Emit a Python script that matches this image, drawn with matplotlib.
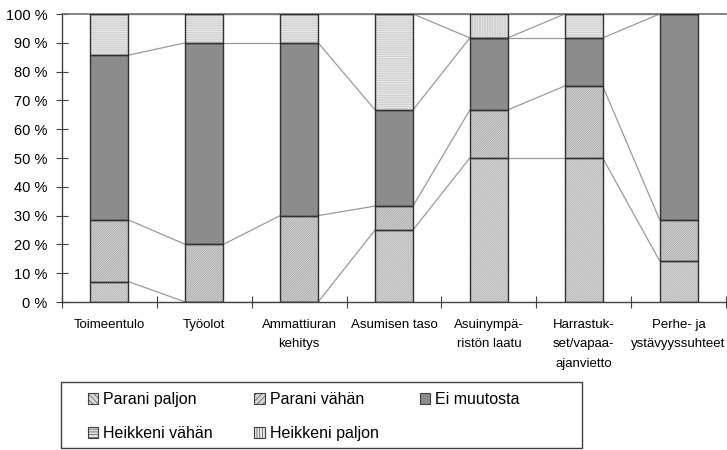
import numpy as np
from matplotlib import pyplot as plt
from matplotlib.patches import Patch, Rectangle

categories = ["Toimeentulo", "Työolot", "Ammattiuran\nkehitys", "Asumisen taso",
              "Asuinympä-\nristön laatu", "Harrastuk-\nset/vapaa-\najanvietto",
              "Perhe- ja\nystävyyssuhteet"]
series_names = ["Parani paljon", "Parani vähän", "Ei muutosta",
                "Heikkeni vähän", "Heikkeni paljon"]

# percentages per category (bottom to top)
parani_paljon = [7.1, 0, 0, 25.0, 50.0, 50.0, 14.3]
parani_vahan = [21.4, 20.0, 30.0, 8.3, 16.7, 25.0, 14.3]
ei_muutosta = [57.2, 70.0, 60.0, 33.4, 25.0, 16.7, 71.4]
heikkeni_vahan = [14.3, 10.0, 10.0, 33.3, 0, 8.3, 0]
heikkeni_paljon = [0, 0, 0, 0, 8.3, 0, 0]

faces = ["#dcdcdc", "#d6d6d6", "#8c8c8c", "#e6e6e6", "#e8e8e8"]
hatches = ["\\" * 16, "/" * 14, "", "-" * 9, "|" * 10]
hatch_cols = ["#ababab", "#9a9a9a", "#8c8c8c", "#c4c4c4", "#bcbcbc"]

plt.rcParams['font.family'] = ['Liberation Sans', 'DejaVu Sans']
plt.rcParams['hatch.linewidth'] = 0.45

fig = plt.figure(figsize=(7.27, 4.5), dpi=100)
ax = fig.add_axes([62 / 727, 1 - 302 / 450, 664 / 727, 288 / 450])

x = np.arange(len(categories))
data = [parani_paljon, parani_vahan, ei_muutosta, heikkeni_vahan, heikkeni_paljon]
w = 0.4
bottom = np.zeros(len(categories))
tops = []
for vals, fc, h, hc in zip(data, faces, hatches, hatch_cols):
    vals = np.array(vals)
    ax.bar(x, vals, w, bottom=bottom, color=fc, hatch=h, edgecolor=hc,
           linewidth=0, zorder=2)
    ax.bar(x, vals, w, bottom=bottom, fill=False, edgecolor="#303030",
           linewidth=1.0, zorder=3)
    bottom = bottom + vals
    tops.append(bottom.copy())

# series lines between bars
for level in tops:
    for i in range(len(categories) - 1):
        ax.plot([x[i] + w / 2, x[i + 1] - w / 2], [level[i], level[i + 1]],
                color="#9a9a9a", lw=0.9, zorder=1)

ax.set_xlim(-0.5, len(categories) - 0.5)
ax.set_ylim(0, 100)
ax.set_yticks(np.arange(0, 101, 10))
ax.set_yticklabels([f"{v} %" for v in range(0, 101, 10)], fontsize=10.5)
ax.tick_params(axis='y', direction='inout', length=9, width=0.8, pad=6,
               color="#404040")
ax.set_xticks(x)
ax.set_xticklabels(categories, fontsize=9.5,
                   family=['Liberation Sans Narrow', 'Liberation Sans'],
                   linespacing=1.85)
ax.tick_params(axis='x', length=0, pad=12)
ax.set_xticks(np.arange(-0.5, len(categories), 1), minor=True)
ax.tick_params(axis='x', which='minor', direction='inout', length=8,
               width=0.8, color="#404040")

for side in ["left", "bottom"]:
    ax.spines[side].set_color("#404040")
    ax.spines[side].set_linewidth(1.0)
ax.spines["top"].set_color("#707070")
ax.spines["top"].set_linewidth(1.2)
ax.spines["right"].set_visible(False)

handles = [Patch(facecolor=fc, hatch=h[:6], edgecolor="#404040", linewidth=0.8)
           for fc, h in zip(faces, hatches)]
order = [0, 3, 1, 4, 2]
leg = fig.legend([handles[k] for k in order], [series_names[k] for k in order],
                 ncol=3, loc='upper left',
                 bbox_to_anchor=(88 / 727, 1 - 392 / 450),
                 fontsize=11.5, frameon=False,
                 handlelength=0.65, handleheight=0.65, handletextpad=0.3,
                 borderpad=0, labelspacing=1.2, borderaxespad=0,
                 columnspacing=2.6)

# legend box
fig.patches.append(Rectangle((61 / 727, 2 / 450), 521 / 727, 66 / 450,
                             transform=fig.transFigure, fill=False,
                             edgecolor="#404040", linewidth=1.0))

plt.savefig("out.png", dpi=100)
